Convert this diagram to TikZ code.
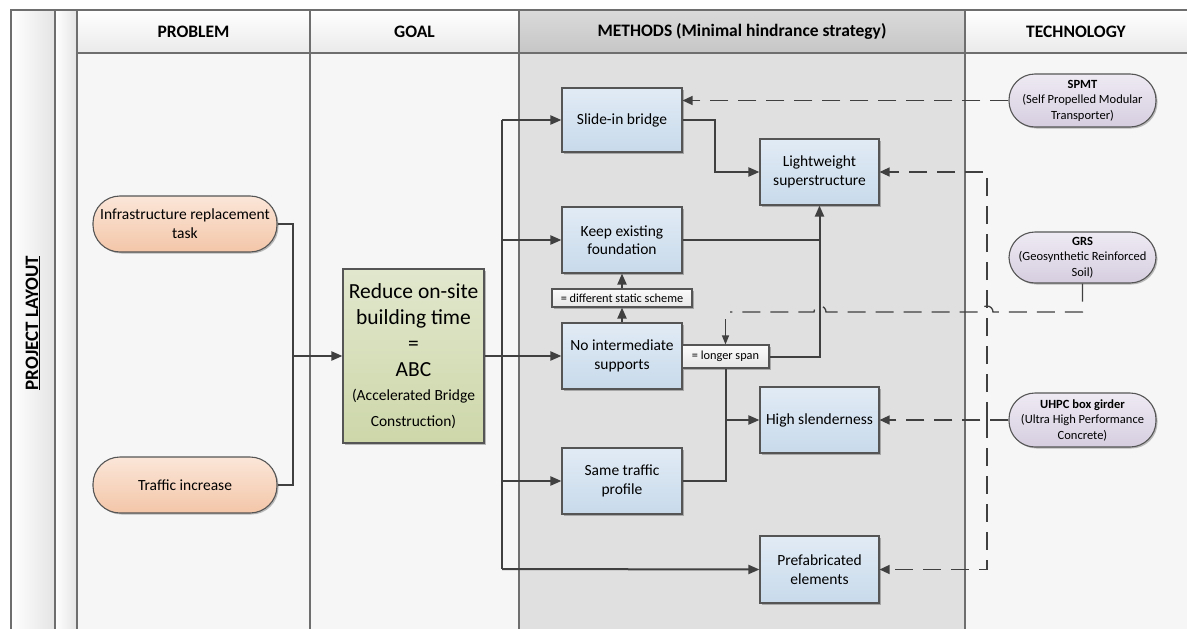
\documentclass[tikz,border=0pt]{standalone}
\usepackage{fontspec}
\setmainfont{Carlito}
\usetikzlibrary{arrows.meta,shadows}

\definecolor{laneline}{HTML}{6E6E6E}
\definecolor{stripgrey}{HTML}{E4E4E4}
\definecolor{hdrbottom}{HTML}{EAEAEA}
\definecolor{mhdrtop}{HTML}{DADADA}
\definecolor{mhdrbottom}{HTML}{C6C6C6}
\definecolor{bodygrey}{HTML}{F6F6F6}
\definecolor{methodsgrey}{HTML}{E0E0E0}
\definecolor{boxline}{HTML}{555555}
\definecolor{connc}{HTML}{404040}
\definecolor{peachtop}{HTML}{FBE6D8}
\definecolor{peachbottom}{HTML}{F3C6A8}
\definecolor{bluetop}{HTML}{E1EBF5}
\definecolor{bluebottom}{HTML}{C8DAEB}
\definecolor{greentop}{HTML}{E1E7CD}
\definecolor{greenbottom}{HTML}{CDD7A9}
\definecolor{lilactop}{HTML}{EEEAF3}
\definecolor{lilacbottom}{HTML}{D6CEE0}
\definecolor{tagtop}{HTML}{FBFBFB}
\definecolor{tagbottom}{HTML}{E6E6E6}

\newcommand{\goalbig}{\fontsize{21.5}{26}\selectfont}
\newcommand{\goalsmall}{\fontsize{15.5}{22}\selectfont}

\tikzset{
  lanerule/.style={draw=laneline, line width=1.3pt},
  hdrtext/.style={font=\fontsize{17.5}{21}\selectfont\bfseries},
  softshadow/.style={drop shadow={shadow xshift=1.5pt, shadow yshift=-1.5pt, fill=black, opacity=0.25}},
  boxbase/.style={draw=boxline, line width=1.1pt, align=center, inner sep=2pt, softshadow},
  problempill/.style={boxbase, rounded corners=27pt, minimum width=184pt, minimum height=56pt,
    top color=peachtop, bottom color=peachbottom, font=\fontsize{15.5}{19}\selectfont},
  techpill/.style={boxbase, rounded corners=26pt, minimum width=147pt, minimum height=53pt,
    top color=lilactop, bottom color=lilacbottom, font=\fontsize{12.5}{15.5}\selectfont},
  methodbox/.style={boxbase, minimum width=120pt, minimum height=66pt,
    top color=bluetop, bottom color=bluebottom, font=\fontsize{15.5}{18.5}\selectfont},
  goalbox/.style={boxbase, minimum width=141pt, minimum height=174pt,
    top color=greentop, bottom color=greenbottom},
  tagbox/.style={boxbase, minimum height=18pt, inner sep=1pt,
    top color=tagtop, bottom color=tagbottom, font=\fontsize{12.3}{14}\selectfont},
  wire/.style={draw=connc, line width=2pt},
  wirearrow/.style={wire, -{Triangle[length=11pt, width=9pt]}},
  thinarrow/.style={draw=connc, line width=1.3pt, -{Triangle[length=9pt, width=7pt]}},
  dashwire/.style={draw=connc, line width=1.3pt, dash pattern=on 18pt off 10pt},
  dasharrow/.style={dashwire, -{Triangle[length=10pt, width=9pt]}},
}

\begin{document}
\begin{tikzpicture}[x=1pt, y=-1pt]
\useasboundingbox (0,0) rectangle (1187,629);
\fill[white] (0,0) rectangle (1187,629);

% side strips
\shade[left color=white, right color=stripgrey] (11,10) rectangle (55,629);
\shade[left color=white, right color=stripgrey] (55,10) rectangle (77,629);

% header row
\shade[top color=white, bottom color=hdrbottom] (77,10) rectangle (310,53);
\shade[top color=white, bottom color=hdrbottom] (310,10) rectangle (519,53);
\shade[top color=mhdrtop, bottom color=mhdrbottom] (519,10) rectangle (965,53);
\shade[top color=white, bottom color=hdrbottom] (965,10) rectangle (1187,53);

% lane bodies
\fill[bodygrey] (77,53) rectangle (519,629);
\fill[methodsgrey] (519,53) rectangle (965,629);
\fill[bodygrey] (965,53) rectangle (1187,629);

% lane rules
\draw[lanerule] (11,629) -- (11,10) -- (1187,10);
\draw[lanerule] (77,53) -- (1187,53);
\foreach \xx in {55,77,310,519,965} \draw[lanerule] (\xx,10) -- (\xx,629);

% headings
\node[hdrtext] (hprob) at (193.5,31.5) {PROBLEM};
\node[hdrtext] (hgoal) at (414.5,31.5) {GOAL};
\node[hdrtext] (hmeth) at (742,31.5) {METHODS (Minimal hindrance strategy)};
\node[hdrtext] (htech) at (1076,31.5) {TECHNOLOGY};
\node[font=\fontsize{19}{22}\selectfont\bfseries, rotate=90] (hlayout) at (33,323) {\underline{PROJECT LAYOUT}};

% problem
\node[problempill] (infra) at (185,224) {Infrastructure replacement\\task};
\node[problempill] (traffic) at (185,485) {Traffic increase};

% goal
\node[goalbox, font=\goalbig] (goal) at (413.5,356)
  {\goalbig Reduce on-site\\\goalbig building time\\\goalbig =\\\goalbig ABC\\[-2pt]\goalsmall (Accelerated Bridge\\\goalsmall Construction)};

% methods
\node[methodbox, minimum height=64pt] (slide) at (622,120) {Slide-in bridge};
\node[methodbox] (keep) at (622,240) {Keep existing\\foundation};
\node[tagbox, minimum width=140pt] (static) at (622,298) {= different static scheme};
\node[methodbox] (noint) at (622,356) {No intermediate\\supports};
\node[tagbox, minimum width=87pt, minimum height=23pt] (longer) at (725.5,356.5) {= longer span};
\node[methodbox] (same) at (622,481) {Same traffic\\profile};
\node[methodbox, minimum width=119pt] (light) at (819.5,172) {Lightweight\\superstructure};
\node[methodbox, minimum width=119pt] (high) at (819.5,420) {High slenderness};
\node[methodbox, minimum width=119pt, minimum height=67pt] (prefab) at (819.5,569.5) {Prefabricated\\elements};

% technology
\node[techpill] (spmt) at (1082.5,100.5) {\textbf{SPMT}\\(Self Propelled Modular\\Transporter)};
\node[techpill, minimum height=51pt] (grs) at (1082.5,257.5) {\textbf{GRS}\\(Geosynthetic Reinforced\\Soil)};
\node[techpill, minimum height=54pt] (uhpc) at (1082.5,420) {\textbf{UHPC box girder}\\(Ultra High Performance\\Concrete)};

% problem -> goal
\coordinate (jprob) at (293,356);
\draw[wire] (infra.east) -| (jprob);
\draw[wire] (traffic.east) -| (jprob);
\draw[wirearrow] (jprob) -- (goal.west);

% goal -> methods
\coordinate (trunktop) at (502,120);
\coordinate (trunkbot) at (502,569);
\draw[wire] (trunktop) -- (trunkbot);
\draw[wirearrow] (trunktop) -- (slide.west);
\draw[wirearrow] (trunktop |- keep.west) -- (keep.west);
\draw[wirearrow] (goal.east) -- (noint.west);
\draw[wirearrow] (trunktop |- same.west) -- (same.west);
\draw[wirearrow] (trunkbot) -- (prefab.west);

% between methods
\draw[wirearrow] (slide.east) -- ++(32,0) |- (light.west);
\draw[wire] (keep.east) -- (keep.east -| light.south);
\draw[wirearrow] (longer.east) -| (light.south);
\draw[wirearrow] (noint.north) -- (static.south);
\draw[wirearrow] (static.north) -- (keep.south);
\draw[wire] (same.east) -| (longer.south);
\draw[wirearrow] (longer.south |- high.west) -- (high.west);

% technology -> methods
\draw[dasharrow] (spmt.west) -- (spmt.west -| slide.east);
\coordinate (ujoin) at (987,420);
\draw[dasharrow] (uhpc.west) -- (high.east);
\draw[dasharrow] (ujoin) |- (light.east);
\draw[dasharrow] (ujoin) |- (prefab.east);

\coordinate (grsend) at (730,312);
\coordinate (grsdrop) at (725.5,319);
\draw[dashwire] (grs.south) -- (grs.south |- grsend) -- (993,312)
  arc[start angle=0, end angle=180, radius=6pt] -- (826,312)
  arc[start angle=0, end angle=180, radius=6pt] -- (grsend);
\draw[thinarrow] (grsdrop) -- (longer.north);
\end{tikzpicture}
\end{document}
